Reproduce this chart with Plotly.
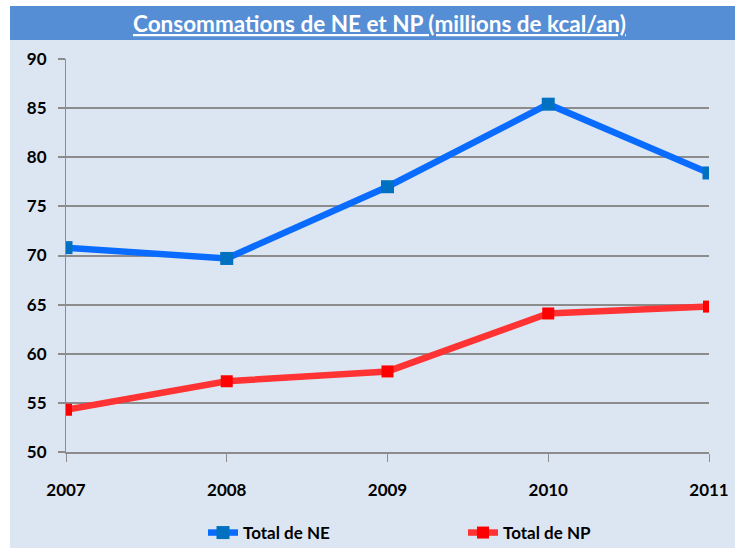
import plotly.graph_objects as go

years = ["2007", "2008", "2009", "2010", "2011"]
ne_values = [70.8, 69.7, 77.0, 85.4, 78.4]
np_values = [54.3, 57.2, 58.2, 64.1, 64.8]
y_ticks = [50, 55, 60, 65, 70, 75, 80, 85, 90]

FONT = "Lato"

fig = go.Figure()
fig.add_trace(go.Scatter(
    x=years, y=ne_values, name="Total de NE", mode="lines+markers",
    line=dict(color="#0A6CFF", width=6.5),
    marker=dict(symbol="square", size=13, color="#0070C0"),
))
fig.add_trace(go.Scatter(
    x=years, y=np_values, name="Total de NP", mode="lines+markers",
    line=dict(color="#FF3333", width=6.5),
    marker=dict(symbol="square", size=12, color="#FF0000"),
))

L, R, T, B = 66, 26, 59, 98
W, H = 735, 550
pw, ph = W - L - R, H - T - B

def px(x):
    return (x - L) / pw

def py(y):
    return (H - B - y) / ph

fig.update_layout(
    width=W, height=H,
    margin=dict(l=L, r=R, t=T, b=B, autoexpand=False),
    paper_bgcolor="white",
    plot_bgcolor="rgba(0,0,0,0)",
    font=dict(family=FONT, size=17, color="black"),
    showlegend=True,
    legend=dict(orientation="h", x=px(203), xanchor="left", y=py(533), yanchor="middle",
                font=dict(family=FONT, size=17, color="black", weight="bold"),
                bgcolor="rgba(0,0,0,0)",
                entrywidth=215, entrywidthmode="pixels", itemwidth=30, tracegroupgap=0),
    shapes=[
        dict(type="rect", xref="paper", yref="paper", x0=px(10), x1=px(740), y0=py(548), y1=py(40),
             fillcolor="#DCE6F2", line=dict(width=0), layer="below"),
        dict(type="rect", xref="paper", yref="paper", x0=px(10), x1=px(740), y0=py(40), y1=py(6),
             fillcolor="#558ED5", line=dict(width=0), layer="below"),
    ],
    annotations=[
        dict(text="<u>Consommations de NE et NP (millions de kcal/an)</u>", xref="paper", yref="paper",
             x=px(379), y=py(23), xanchor="center", yanchor="middle", showarrow=False,
             font=dict(family=FONT, size=22.5, color="white", weight="bold")),
    ],
)

fig.update_xaxes(
    type="category", range=[0, 4], showgrid=False, automargin=False,
    showline=True, linecolor="#8C8C8C", linewidth=1.5,
    ticks="outside", ticklen=8, tickcolor="#8C8C8C", tickwidth=1,
    tickfont=dict(family=FONT, size=17, color="black", weight="bold"),
    ticklabelstandoff=14,
)
fig.update_yaxes(
    range=[50, 90], tickvals=y_ticks, showgrid=True, gridcolor="#8C8C8C", gridwidth=1.5,
    showline=True, linecolor="#8C8C8C", linewidth=1, automargin=False,
    ticks="outside", ticklen=7, tickcolor="#8C8C8C", tickwidth=1.5,
    tickfont=dict(family=FONT, size=17, color="black", weight="bold"),
    ticklabelstandoff=8, zeroline=False,
)

fig.write_html("out.html", config={"displayModeBar": False},
               post_script="document.body.style.margin='0';")
